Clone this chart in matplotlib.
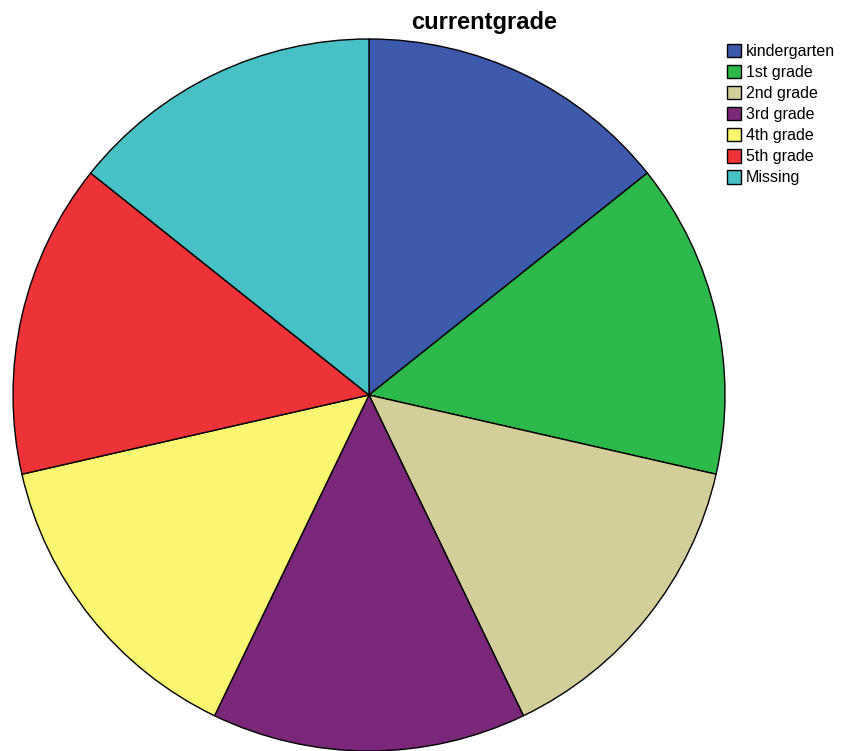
import matplotlib
matplotlib.use("Agg")
import matplotlib.pyplot as plt

# data
categories = ['kindergarten', '1st grade', '2nd grade', '3rd grade',
              '4th grade', '5th grade', 'Missing']
counts = [1, 1, 1, 1, 1, 1, 1]
colors = ['#3D59AB', '#2DB84B', '#D4CF9A', '#7B287B',
          '#FAF672', '#EE3338', '#48C1C6']

plt.rcParams['font.family'] = ['Liberation Sans', 'DejaVu Sans']

fig = plt.figure(figsize=(8.46, 7.51), dpi=100)
ax = fig.add_axes([0, 0, 1, 1])

wedges, _ = ax.pie(counts, colors=colors, startangle=90, counterclock=False,
                   center=(369, 356), radius=356, frame=True,
                   wedgeprops=dict(edgecolor='black', linewidth=1.0))
ax.set_xlim(0, 846)
ax.set_ylim(0, 751)
ax.set_aspect('equal')
ax.axis('off')

fig.text(484 / 846, 1 - 22 / 751, 'currentgrade', ha='center', va='center',
         fontsize=17, fontweight='bold')

leg = fig.legend(wedges, categories, loc='upper left',
                 bbox_to_anchor=(727 / 846, 1 - 44 / 751),
                 frameon=False, fontsize=11.5, handlelength=0.9,
                 handleheight=0.9, handletextpad=0.3, labelspacing=0.37,
                 borderaxespad=0, borderpad=0)

fig.savefig('out.png', dpi=100)
